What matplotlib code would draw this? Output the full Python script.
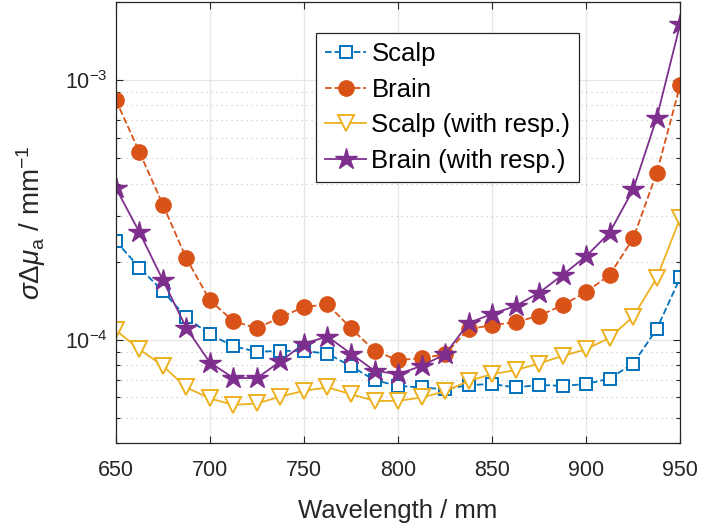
import numpy as np
import matplotlib
matplotlib.use("Agg")
import matplotlib.pyplot as plt
from matplotlib.ticker import LogLocator, NullFormatter, MultipleLocator

plt.rcParams['font.family'] = ['Liberation Sans', 'DejaVu Sans']
plt.rcParams['mathtext.fontset'] = 'custom'
plt.rcParams['mathtext.rm'] = 'Liberation Sans'
plt.rcParams['mathtext.it'] = 'Liberation Sans:italic'

wavelength = [650, 662.5, 675, 687.5, 700, 712.5, 725, 737.5, 750, 762.5, 775, 787.5,
              800, 812.5, 825, 837.5, 850, 862.5, 875, 887.5, 900, 912.5, 925, 937.5, 950]

scalp = [2.40e-4, 1.90e-4, 1.54e-4, 1.22e-4, 1.05e-4, 9.46e-5, 9.0e-5, 9.07e-5, 9.07e-5,
         8.85e-5, 7.92e-5, 7.0e-5, 6.65e-5, 6.56e-5, 6.45e-5, 6.7e-5, 6.76e-5, 6.56e-5,
         6.71e-5, 6.65e-5, 6.76e-5, 7.1e-5, 8.11e-5, 1.10e-4, 1.74e-4]

brain = [8.4e-4, 5.3e-4, 3.32e-4, 2.06e-4, 1.42e-4, 1.18e-4, 1.11e-4, 1.22e-4, 1.34e-4,
         1.37e-4, 1.11e-4, 9.07e-5, 8.36e-5, 8.5e-5, 8.8e-5, 1.10e-4, 1.14e-4, 1.17e-4,
         1.24e-4, 1.36e-4, 1.53e-4, 1.78e-4, 2.46e-4, 4.4e-4, 9.6e-4]

scalp_resp = [1.09e-4, 9.2e-5, 7.94e-5, 6.56e-5, 5.95e-5, 5.62e-5, 5.69e-5, 6.05e-5, 6.37e-5,
              6.56e-5, 6.18e-5, 5.82e-5, 5.82e-5, 6.0e-5, 6.33e-5, 6.95e-5, 7.38e-5, 7.65e-5,
              8.11e-5, 8.68e-5, 9.2e-5, 1.02e-4, 1.23e-4, 1.73e-4, 2.95e-4]

brain_resp = [3.85e-4, 2.60e-4, 1.70e-4, 1.11e-4, 8.18e-5, 7.13e-5, 7.13e-5, 8.26e-5, 9.68e-5,
              1.03e-4, 8.85e-5, 7.6e-5, 7.38e-5, 7.94e-5, 8.8e-5, 1.16e-4, 1.26e-4, 1.35e-4,
              1.52e-4, 1.78e-4, 2.10e-4, 2.59e-4, 3.80e-4, 7.16e-4, 1.65e-3]

labels = ['Scalp', 'Brain', 'Scalp (with resp.)', 'Brain (with resp.)']

c_blue = '#0072BD'
c_orange = '#D95319'
c_yellow = '#EDB120'
c_purple = '#7E2F8E'

fig = plt.figure(figsize=(7.02, 5.27), dpi=100)
ax = fig.add_axes([0.165, 0.159, 0.804, 0.837])

ax.grid(True, which='major', color='#e6e6e6', linewidth=0.9, linestyle='-')
ax.grid(True, which='minor', axis='y', color='#cccccc', linewidth=0.9, linestyle=(0, (1, 3)))
ax.set_axisbelow(True)

ax.plot(wavelength, scalp, linestyle='--', color=c_blue, marker='s', markersize=9,
        markerfacecolor='white', markeredgewidth=1.4, linewidth=1.3, label=labels[0])
ax.plot(wavelength, brain, linestyle='--', color=c_orange, marker='o', markersize=11,
        markerfacecolor=c_orange, markeredgewidth=1.0, linewidth=1.3, label=labels[1])
ax.plot(wavelength, scalp_resp, linestyle='-', color=c_yellow, marker='v', markersize=11,
        markerfacecolor='white', markeredgewidth=1.4, linewidth=1.3, label=labels[2])
ax.plot(wavelength, brain_resp, linestyle='-', color=c_purple, marker='*', markersize=16,
        markerfacecolor=c_purple, markeredgewidth=1.0, linewidth=1.3, label=labels[3])

ax.set_yscale('log')
ax.set_xlim(650, 950)
ax.set_ylim(4e-5, 2e-3)
ax.xaxis.set_major_locator(MultipleLocator(50))
ax.yaxis.set_major_locator(LogLocator(base=10, numticks=10))
ax.yaxis.set_minor_locator(LogLocator(base=10, subs=np.arange(2, 10), numticks=10))
ax.yaxis.set_minor_formatter(NullFormatter())

ax.tick_params(which='both', direction='in', top=True, right=True, labelsize=15.5,
               colors='#262626', width=0.8)
ax.tick_params(which='major', length=5)
ax.tick_params(which='minor', length=3)
ax.tick_params(axis='x', pad=12)
ax.tick_params(axis='y', pad=6)
for s in ax.spines.values():
    s.set_color('#262626')
    s.set_linewidth(0.9)

ax.set_xlabel('Wavelength / mm', fontsize=18.5, color='#262626', labelpad=13)
ax.set_ylabel(r'$\sigma\Delta\mu_{\rm a}$ / mm$^{-1}$', fontsize=20, color='#262626', labelpad=12)

leg = ax.legend(loc='upper left', bbox_to_anchor=(0.355, 0.93), fontsize=18.5,
                frameon=True, fancybox=False, edgecolor='#262626', framealpha=1,
                handlelength=1.6, handletextpad=0.2, borderpad=0.35, labelspacing=0.45,
                borderaxespad=0)
leg.get_frame().set_linewidth(0.9)

fig.savefig('out.png', dpi=100)
